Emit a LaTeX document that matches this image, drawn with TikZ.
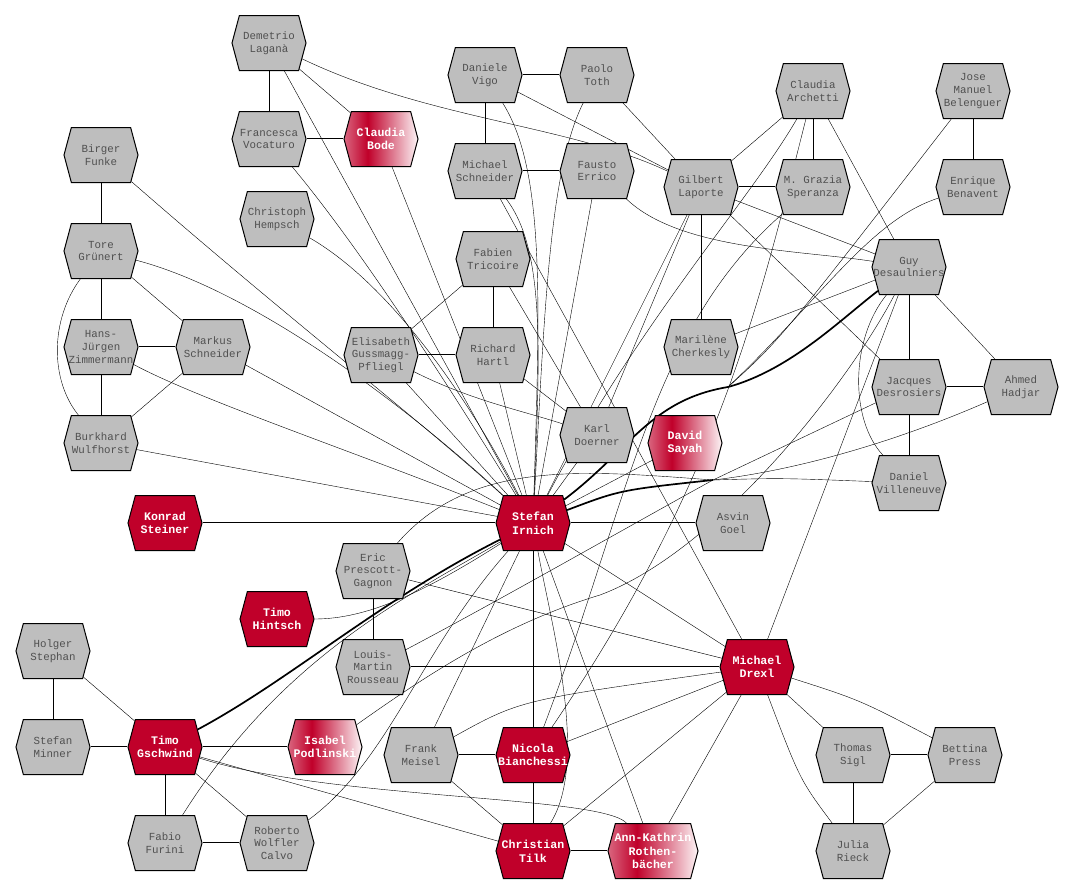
\documentclass[tikz,border=0pt]{standalone}
\usepackage{fontspec}
\newfontfamily\namefont{Liberation Mono}
\usepackage{xcolor}
\usepackage{tikz}
\usetikzlibrary{shapes.symbols,backgrounds}

\definecolor{leadred}{RGB}{192,0,42}
\definecolor{hexgray}{RGB}{190,190,190}
\definecolor{namegray}{RGB}{80,80,80}
\pgfdeclarehorizontalshading{fadered}{100bp}{color(0bp)=(leadred!60!white); color(25bp)=(leadred!60!white);
  color(41bp)=(leadred); color(75bp)=(leadred!4!white); color(100bp)=(leadred!4!white)}
\newcommand{\nm}[1]{\makebox[0pt]{#1}}

\tikzset{
  person/.style={shape=signal, signal to=east and west, signal pointer angle=150,
    minimum width=74pt, minimum height=55pt, inner sep=0pt, draw=black, line width=1pt,
    fill=hexgray, text=namegray, align=center,
    font=\namefont\fontsize{10.8}{12.6}\selectfont},
  lead/.style={person, fill=leadred, text=white,
    font=\namefont\bfseries\fontsize{11.6}{13.6}\selectfont},
  fade/.style={lead, shading=fadered, shading angle=0},
  link/.style={line width=1.1pt},
  heavy/.style={line width=1.7pt}
}

\begin{document}
\begin{tikzpicture}[x=1pt, y=-1pt]
\useasboundingbox (0,0) rectangle (1074,894);

% people
\node[person] (lagana)      at (269,43)  {\nm{Demetrio}\\\nm{Laganà}};
\node[person] (vocaturo)    at (269,139) {\nm{Francesca}\\\nm{Vocaturo}};
\node[fade]   (bode)        at (381,139) {\nm{Claudia}\\\nm{Bode}};
\node[person] (hempsch)     at (277,219) {\nm{Christoph}\\\nm{Hempsch}};
\node[person] (funke)       at (101,155) {\nm{Birger}\\\nm{Funke}};
\node[person] (gruenert)    at (101,251) {\nm{Tore}\\\nm{Grünert}};
\node[person] (zimmermann)  at (101,347) {\nm{Hans-}\\\nm{Jürgen}\\\nm{Zimmermann}};
\node[person] (mschneider)  at (213,347) {\nm{Markus}\\\nm{Schneider}};
\node[person] (wulfhorst)   at (101,443) {\nm{Burkhard}\\\nm{Wulfhorst}};
\node[lead]   (steiner)     at (165,523) {\nm{Konrad}\\\nm{Steiner}};
\node[person] (vigo)        at (485,75)  {\nm{Daniele}\\\nm{Vigo}};
\node[person] (toth)        at (597,75)  {\nm{Paolo}\\\nm{Toth}};
\node[person] (mischneider) at (485,171) {\nm{Michael}\\\nm{Schneider}};
\node[person] (errico)      at (597,171) {\nm{Fausto}\\\nm{Errico}};
\node[person] (tricoire)    at (493,259) {\nm{Fabien}\\\nm{Tricoire}};
\node[person] (gussmagg)    at (381,355) {\nm{Elisabeth}\\\nm{Gussmagg-}\\\nm{Pfliegl}};
\node[person] (hartl)       at (493,355) {\nm{Richard}\\\nm{Hartl}};
\node[person] (doerner)     at (597,435) {\nm{Karl}\\\nm{Doerner}};
\node[fade]   (sayah)       at (685,443) {\nm{David}\\\nm{Sayah}};
\node[lead]   (irnich)      at (533,523) {\nm{Stefan}\\\nm{Irnich}};
\node[person] (goel)        at (733,523) {\nm{Asvin}\\\nm{Goel}};
\node[person] (laporte)     at (701,187) {\nm{Gilbert}\\\nm{Laporte}};
\node[person] (archetti)    at (813,91)  {\nm{Claudia}\\\nm{Archetti}};
\node[person] (speranza)    at (813,187) {\nm{M. Grazia}\\\nm{Speranza}};
\node[person] (belenguer)   at (973,91)  {\nm{Jose}\\\nm{Manuel}\\\nm{Belenguer}};
\node[person] (benavent)    at (973,187) {\nm{Enrique}\\\nm{Benavent}};
\node[person] (desaulniers) at (909,267) {\nm{Guy}\\\nm{Desaulniers}};
\node[person] (cherkesly)   at (701,347) {\nm{Marilène}\\\nm{Cherkesly}};
\node[person] (desrosiers)  at (909,387) {\nm{Jacques}\\\nm{Desrosiers}};
\node[person] (hadjar)      at (1021,387) {\nm{Ahmed}\\\nm{Hadjar}};
\node[person] (villeneuve)  at (909,483) {\nm{Daniel}\\\nm{Villeneuve}};
\node[person] (prescott)    at (373,571) {\nm{Eric}\\\nm{Prescott-}\\\nm{Gagnon}};
\node[person] (rousseau)    at (373,667) {\nm{Louis-}\\\nm{Martin}\\\nm{Rousseau}};
\node[lead]   (hintsch)     at (277,619) {\nm{Timo}\\\nm{Hintsch}};
\node[person] (stephan)     at (53,651)  {\nm{Holger}\\\nm{Stephan}};
\node[person] (minner)      at (53,747)  {\nm{Stefan}\\\nm{Minner}};
\node[lead]   (gschwind)    at (165,747) {\nm{Timo}\\\nm{Gschwind}};
\node[fade]   (podlinski)   at (325,747) {\nm{Isabel}\\\nm{Podlinski}};
\node[person] (furini)      at (165,843) {\nm{Fabio}\\\nm{Furini}};
\node[person] (wolfler)     at (277,843) {\nm{Roberto}\\\nm{Wolfler}\\\nm{Calvo}};
\node[person] (meisel)      at (421,755) {\nm{Frank}\\\nm{Meisel}};
\node[lead]   (bianchessi)  at (533,755) {\nm{Nicola}\\\nm{Bianchessi}};
\node[lead]   (tilk)        at (533,851) {\nm{Christian}\\\nm{Tilk}};
\node[fade, minimum width=90pt] (rothen) at (653,851) {\nm{Ann-Kathrin}\\\nm{Rothen-}\\\nm{bächer}};
\node[lead]   (drexl)       at (757,667) {\nm{Michael}\\\nm{Drexl}};
\node[person] (sigl)        at (853,755) {\nm{Thomas}\\\nm{Sigl}};
\node[person] (press)       at (965,755) {\nm{Bettina}\\\nm{Press}};
\node[person] (rieck)       at (853,851) {\nm{Julia}\\\nm{Rieck}};

% where several links run together
\coordinate (hub) at (728,387);
\coordinate (fan) at (713,480);

\begin{scope}[on background layer, link]
% left group
\draw (funke) -- (gruenert);
\draw (gruenert) -- (zimmermann);
\draw (gruenert) -- (mschneider);
\draw ([yshift=.5pt]zimmermann.east) -- ([yshift=.5pt]mschneider.west);
\draw (zimmermann) -- (wulfhorst);
\draw (mschneider) -- (wulfhorst);
\draw (gruenert) .. controls (50,320) and (50,380) .. (wulfhorst);
\draw (funke) .. controls (290,320) and (420,420) .. (irnich);
\draw (gruenert) .. controls (250,290) and (400,400) .. (irnich);
\draw (zimmermann) .. controls (200,400) and (350,450) .. (irnich);
\draw (mschneider) -- (irnich);
\draw (wulfhorst) -- (irnich);
\draw ([yshift=.5pt]steiner.east) -- ([yshift=.5pt]irnich.west);
\draw (hempsch) .. controls (400,290) and (480,420) .. (irnich);
% top left
\draw (lagana) -- (vocaturo);
\draw ([yshift=.5pt]vocaturo.east) -- ([yshift=.5pt]bode.west);
\draw (lagana) -- (bode);
\draw (lagana) -- (irnich);
\draw (vocaturo) .. controls (370,260) and (470,420) .. (irnich);
\draw (bode) -- (irnich);
\draw (lagana) .. controls (430,120) and (570,125) .. (laporte);
% top middle
\draw ([yshift=.5pt]vigo.east) -- ([yshift=.5pt]toth.west);
\draw (vigo) -- (mischneider);
\draw ([yshift=.5pt]mischneider.east) -- ([yshift=.5pt]errico.west);
\draw (vigo) -- (laporte);
\draw (toth) -- (laporte);
\draw (vigo) .. controls (545,170) and (540,300) .. (irnich);
\draw (toth) .. controls (550,170) and (545,300) .. (irnich);
\draw (mischneider) .. controls (545,250) and (540,350) .. (irnich);
\draw (mischneider) -- (drexl);
\draw (errico) -- (irnich);
\draw (errico) .. controls (680,250) and (800,250) .. (desaulniers);
\draw (tricoire) -- (hartl);
\draw (tricoire) -- (gussmagg);
\draw ([yshift=.5pt]gussmagg.east) -- ([yshift=.5pt]hartl.west);
\draw (tricoire) -- (doerner);
\draw (gussmagg) .. controls (470,400) and (520,410) .. (doerner);
\draw (gussmagg) -- (irnich);
\draw (hartl) -- (irnich);
\draw (hartl) -- (doerner);
\draw (doerner) -- (irnich);
\draw (doerner) -- (laporte);
% top right
\draw ([yshift=.5pt]laporte.east) -- ([yshift=.5pt]speranza.west);
\draw (laporte) -- (archetti);
\draw (laporte) -- (cherkesly);
\draw (laporte) -- (desaulniers);
\draw (laporte) -- (desrosiers);
\draw (laporte) -- (irnich);
\draw (archetti) -- (speranza);
\draw (archetti) -- (desaulniers);
\draw (archetti) .. controls (750,200) and (640,320) .. (irnich);
\draw (archetti) .. controls (760,300) and (720,480) .. (bianchessi);
\draw (speranza) .. controls (650,330) and (630,500) .. (bianchessi);
\draw (belenguer) -- (benavent);
\draw[heavy] (irnich) .. controls (630,450) and (650,400) .. (hub) .. controls (790,370) and (840,320) .. (desaulniers);
\draw (irnich) .. controls (630,450) and (650,400) .. (hub) .. controls (780,340) .. (belenguer);
\draw (irnich) .. controls (630,450) and (650,400) .. (hub) .. controls (820,300) and (870,220) .. (benavent);
\draw (cherkesly) -- (desaulniers);
\draw (desaulniers) -- (desrosiers);
\draw (desaulniers) -- (hadjar);
\draw ([yshift=.5pt]desrosiers.east) -- ([yshift=.5pt]hadjar.west);
\draw (desrosiers) -- (villeneuve);
\draw (desaulniers) .. controls (850,340) and (850,420) .. (villeneuve);
\draw (desaulniers) -- (drexl);
\draw[heavy] (irnich) .. controls (620,490) .. (fan);
\draw (fan) -- (desrosiers);
\draw (fan) .. controls (800,470) and (900,440) .. (hadjar);
\draw (prescott) .. controls (470,460) and (580,470) .. (fan) .. controls (780,478) .. (villeneuve);
\draw (rousseau) .. controls (500,600) and (640,520) .. (fan);
\draw (podlinski) .. controls (420,680) and (500,625) .. (600,595) .. controls (720,550) and (850,380) .. (desaulniers);
\draw ([yshift=.5pt]goel.west) -- ([yshift=.5pt]irnich.east);
\draw (sayah) -- (irnich);
% bottom
\draw (prescott) -- (rousseau);
\draw (prescott) -- (drexl);
\draw ([yshift=.5pt]rousseau.east) -- ([yshift=.5pt]drexl.west);
\draw[heavy] (gschwind) .. controls (290,680) and (380,600) .. (irnich);
\draw (hintsch) .. controls (365,619) and (420,595) .. (irnich);
\draw (furini) .. controls (280,660) and (400,600) .. (irnich);
\draw (wolfler) .. controls (390,760) and (420,650) .. (irnich);
\draw (stephan) -- (minner);
\draw (stephan) -- (gschwind);
\draw ([yshift=.5pt]minner.east) -- ([yshift=.5pt]gschwind.west);
\draw ([yshift=.5pt]gschwind.east) -- ([yshift=.5pt]podlinski.west);
\draw (gschwind) -- (furini);
\draw (gschwind) -- (wolfler);
\draw ([yshift=.5pt]furini.east) -- ([yshift=.5pt]wolfler.west);
\draw (gschwind) -- (tilk);
\draw (gschwind) .. controls (330,800) and (600,795) .. (rothen);
\draw ([yshift=.5pt]meisel.east) -- ([yshift=.5pt]bianchessi.west);
\draw (meisel) -- (tilk);
\draw (meisel) -- (irnich);
\draw (meisel) .. controls (520,700) .. (drexl);
\draw (bianchessi) -- (tilk);
\draw (bianchessi) -- (irnich);
\draw (bianchessi) -- (drexl);
\draw ([yshift=.5pt]tilk.east) -- ([yshift=.5pt]rothen.west);
\draw (tilk) .. controls (590,760) and (550,620) .. (irnich);
\draw (tilk) -- (drexl);
\draw (rothen) -- (irnich);
\draw (rothen) -- (drexl);
\draw (drexl) -- (irnich);
\draw (drexl) -- (sigl);
\draw (drexl) .. controls (860,700) .. (press);
\draw (drexl) .. controls (800,780) .. (rieck);
\draw ([yshift=.5pt]sigl.east) -- ([yshift=.5pt]press.west);
\draw (sigl) -- (rieck);
\draw (press) -- (rieck);
\end{scope}
\end{tikzpicture}
\end{document}
